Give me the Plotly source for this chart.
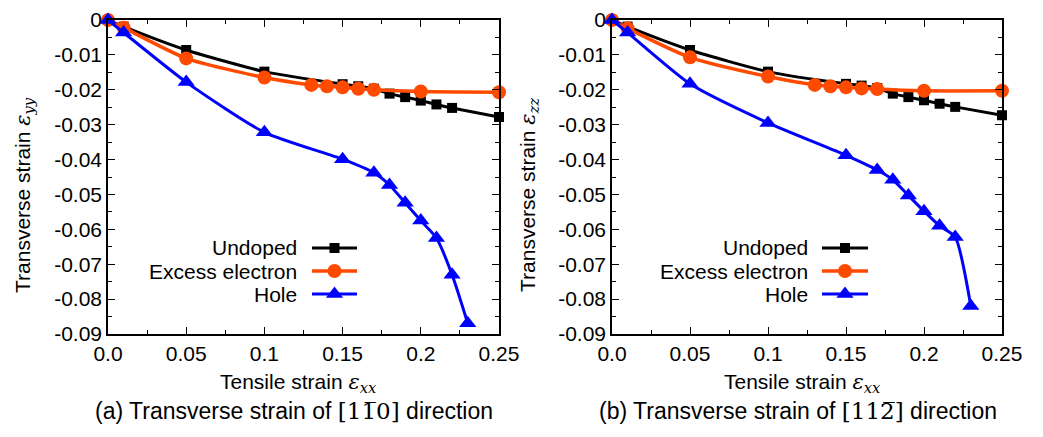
import plotly.graph_objects as go
from plotly.subplots import make_subplots

# ---- data -------------------------------------------------------------
series_names = ["Undoped", "Excess electron", "Hole"]
series_colors = ["#000000", "#FF4A00", "#0000FF"]
series_symbols = ["square", "circle", "triangle-up"]
series_msize = [10, 14, 15]
series_lwidth = [3, 3.5, 3]

# (a) transverse strain along [1-10]
x_undoped = [0.0, 0.01, 0.05, 0.10, 0.15, 0.16, 0.17, 0.18, 0.19, 0.20, 0.21, 0.22, 0.25]
a_undoped = [0.0, -0.0019, -0.0086, -0.0148, -0.0184, -0.0190, -0.0197, -0.0211,
             -0.0221, -0.0231, -0.0242, -0.0252, -0.0278]
x_electron = [0.0, 0.01, 0.05, 0.10, 0.13, 0.14, 0.15, 0.16, 0.17, 0.20, 0.25]
a_electron = [0.0, -0.0022, -0.0110, -0.0165, -0.0186, -0.0190, -0.0193, -0.0197, -0.0200, -0.0205, -0.0207]
x_hole = [0.0, 0.01, 0.05, 0.10, 0.15, 0.17, 0.18, 0.19, 0.20, 0.21, 0.22, 0.23]
a_hole = [0.0, -0.0036, -0.0178, -0.0322, -0.0399, -0.0438, -0.0473, -0.0524, -0.0575, -0.0625, -0.0730, -0.0869]

# (b) transverse strain along [11-2]
b_undoped = [0.0, -0.0019, -0.0086, -0.0148, -0.0183, -0.0188, -0.0195, -0.0211,
             -0.0221, -0.0230, -0.0240, -0.0249, -0.0273]
b_electron = [0.0, -0.0024, -0.0107, -0.0162, -0.0186, -0.0190, -0.0193, -0.0196, -0.0198, -0.0203, -0.0203]
b_hole = [0.0, -0.0036, -0.0183, -0.0295, -0.0388, -0.0430, -0.0458, -0.0503, -0.0548, -0.0590, -0.0622, -0.0820]

x_tickvals = [0.0, 0.05, 0.10, 0.15, 0.20, 0.25]
x_ticktext = ["0.0", "0.05", "0.1", "0.15", "0.2", "0.25"]
y_tickvals = [0.0, -0.01, -0.02, -0.03, -0.04, -0.05, -0.06, -0.07, -0.08, -0.09]
y_ticktext = ["0", "-0.01", "-0.02", "-0.03", "-0.04", "-0.05", "-0.06", "-0.07", "-0.08", "-0.09"]

panel_x = [x_undoped, x_electron, x_hole]
panel_y = [[a_undoped, a_electron, a_hole], [b_undoped, b_electron, b_hole]]

# ---- layout geometry (pixels) ------------------------------------------
W, H = 1043, 437
FONT = "Liberation Sans, Arial, sans-serif"
MATH = "DejaVu Serif, serif"


def px(x):
    return x / W


def py(y):
    return 1 - y / H


plot_left = [108, 612]
plot_right = [499, 1002]
plot_top, plot_bottom = 20, 334

# legend block: text right edge, key line span, row centres
legend_text_right = [299, 810]
key_span = [(312, 357), (822, 868)]
legend_rows_y = [248, 271, 294]

fig = make_subplots(rows=1, cols=2)

for p in range(2):
    for s in range(3):
        fig.add_trace(
            go.Scatter(
                x=panel_x[s], y=panel_y[p][s],
                mode="lines+markers",
                name=series_names[s],
                line=dict(color=series_colors[s], width=series_lwidth[s], shape="spline", smoothing=0.6),
                marker=dict(symbol=series_symbols[s], size=series_msize[s], color=series_colors[s],
                            line=dict(width=0)),
                cliponaxis=False,
                showlegend=False,
            ),
            row=1, col=p + 1,
        )

# legend keys (line + centred marker) on a hidden pixel-space overlay axis
for p in range(2):
    x0, x1 = key_span[p]
    for s in range(3):
        yr = legend_rows_y[s]
        fig.add_trace(go.Scatter(
            x=[x0, x1], y=[yr, yr], mode="lines",
            line=dict(color=series_colors[s], width=series_lwidth[s]),
            xaxis="x3", yaxis="y3", showlegend=False, hoverinfo="skip", cliponaxis=False,
        ))
        fig.add_trace(go.Scatter(
            x=[(x0 + x1) / 2], y=[yr], mode="markers",
            marker=dict(symbol=series_symbols[s], size=series_msize[s],
                        color=series_colors[s], line=dict(width=0)),
            xaxis="x3", yaxis="y3", showlegend=False, hoverinfo="skip", cliponaxis=False,
        ))

axis_common = dict(
    showline=True, linecolor="black", linewidth=1.5, mirror="allticks",
    ticks="inside", ticklen=7, tickwidth=1.2, tickcolor="black",
    showgrid=False, zeroline=False, automargin=False,
    tickfont=dict(family=FONT, size=21, color="black"),
)

for p in range(2):
    xa = "xaxis" if p == 0 else "xaxis2"
    ya = "yaxis" if p == 0 else "yaxis2"
    fig.layout[xa].update(
        domain=[px(plot_left[p]), px(plot_right[p])],
        range=[0, 0.25], tickvals=x_tickvals, ticktext=x_ticktext,
        minor=dict(dtick=0.025, tick0=0, ticks="inside", ticklen=4, tickcolor="black", tickwidth=1),
        **axis_common,
    )
    fig.layout[ya].update(
        domain=[py(plot_bottom), py(plot_top)],
        range=[-0.09, 0], tickvals=y_tickvals, ticktext=y_ticktext,
        minor=dict(dtick=0.005, tick0=0, ticks="inside", ticklen=4, tickcolor="black", tickwidth=1),
        **axis_common,
    )

fig.update_layout(
    xaxis3=dict(domain=[0, 1], range=[0, W], visible=False, automargin=False,
                anchor="y3", fixedrange=True),
    yaxis3=dict(domain=[0, 1], range=[H, 0], visible=False, automargin=False,
                anchor="x3", fixedrange=True),
)

annotations = []
for p in range(2):
    for s in range(3):
        annotations.append(dict(
            text=series_names[s], xref="paper", yref="paper",
            x=px(legend_text_right[p]), y=py(legend_rows_y[s]),
            xanchor="right", yanchor="middle", showarrow=False,
            font=dict(family=FONT, size=21, color="black"),
        ))

eps = lambda sub: f"<span style='font-family:{MATH}'><i>ε</i><sub><i>{sub}</i></sub></span>"
y_titles = [f"Transverse strain {eps('yy')}", f"Transverse strain {eps('zz')}"]
y_title_x = [24, 529]
for p in range(2):
    annotations.append(dict(
        text=y_titles[p], xref="paper", yref="paper",
        x=px(y_title_x[p]), y=py(195), textangle=-90,
        xanchor="center", yanchor="middle", showarrow=False,
        font=dict(family=FONT, size=21, color="black"),
    ))
    annotations.append(dict(
        text=f"Tensile strain {eps('xx')}", xref="paper", yref="paper",
        x=px(plot_left[p] + 190), y=py(383),
        xanchor="center", yanchor="middle", showarrow=False,
        font=dict(family=FONT, size=21, color="black"),
    ))

captions = [
    f"(a) Transverse strain of <span style='font-family:{MATH}'>[11\u03050]</span> direction",
    f"(b) Transverse strain of <span style='font-family:{MATH}'>[112\u0305]</span> direction",
]
for p in range(2):
    annotations.append(dict(
        text=captions[p], xref="paper", yref="paper",
        x=px(plot_left[p] + 186), y=py(411),
        xanchor="center", yanchor="middle", showarrow=False,
        font=dict(family=FONT, size=23, color="black"),
    ))

fig.update_layout(
    template="none",
    width=W, height=H,
    margin=dict(l=0, r=0, t=0, b=0, pad=0),
    paper_bgcolor="white", plot_bgcolor="rgba(0,0,0,0)",
    annotations=annotations,
    showlegend=False,
    font=dict(family=FONT, color="black"),
)

fig.write_html("out.html")
